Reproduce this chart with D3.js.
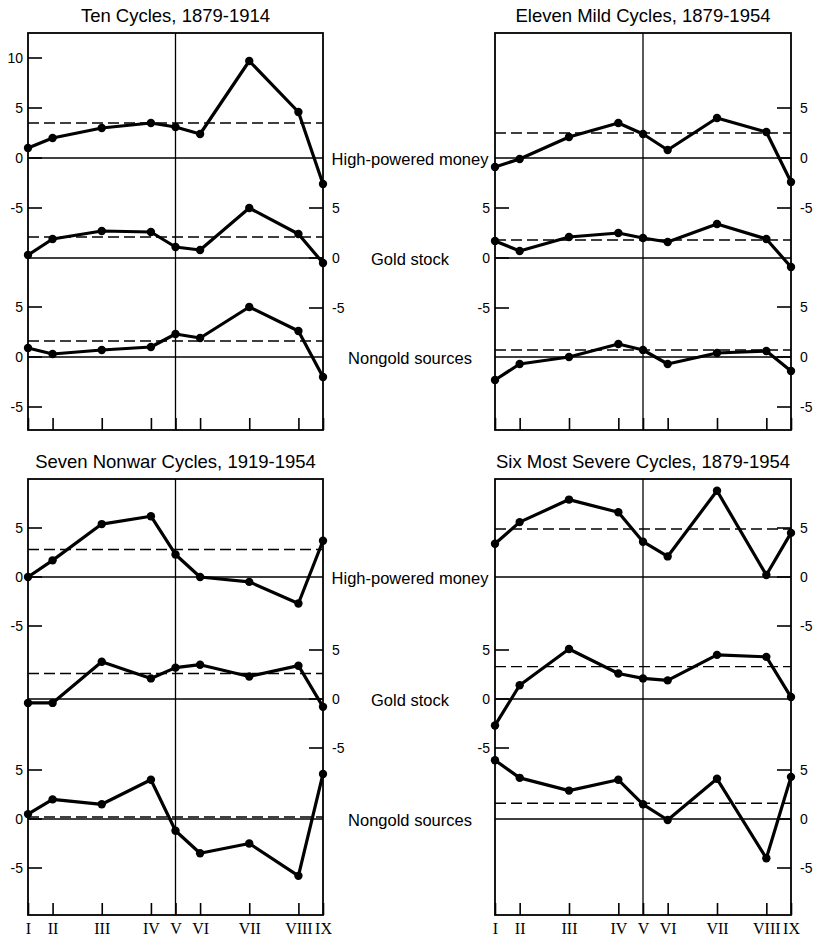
<!DOCTYPE html>
<html>
<head>
<meta charset="utf-8">
<script src="https://cdn.jsdelivr.net/npm/d3@7"></script>
<style>
  body { margin: 0; background: #fff; }
  svg { display: block; }
  .axis text { font-family: "Liberation Sans", Arial, sans-serif; font-size: 14px; fill: #000; }
  .axis line { stroke: #000; stroke-width: 1.6; }
  .axis path { display: none; }
  .stage text { font-family: "Liberation Serif", "Times New Roman", serif; font-size: 16px; fill: #000; }
</style>
</head>
<body>
<div id="chart"></div>
<script>
// reference stages of the cycle, spaced on a common time base
var stageLabels = ["I", "II", "III", "IV", "V", "VI", "VII", "VIII", "IX"];
var stagePos = [0, 1, 3, 5, 6, 7, 9, 11, 12];

var seriesNames = ["High-powered money", "Gold stock", "Nongold sources"];

// Ten Cycles, 1879-1914
var tenHpm     = [1.0, 2.0, 3.0, 3.5, 3.1, 2.4, 9.7, 4.6, -2.6];
var tenGold    = [0.3, 1.9, 2.7, 2.6, 1.1, 0.8, 5.0, 2.4, -0.5];
var tenNongold = [0.9, 0.3, 0.7, 1.0, 2.3, 1.9, 5.0, 2.6, -2.0];
var tenAvg     = [3.5, 2.1, 1.6];

// Eleven Mild Cycles, 1879-1954
var mildHpm     = [-0.9, -0.1, 2.1, 3.5, 2.4, 0.8, 4.0, 2.6, -2.4];
var mildGold    = [1.7, 0.7, 2.1, 2.5, 2.0, 1.6, 3.4, 1.9, -0.9];
var mildNongold = [-2.3, -0.7, 0.0, 1.3, 0.7, -0.7, 0.4, 0.6, -1.4];
var mildAvg     = [2.5, 1.8, 0.7];

// Seven Nonwar Cycles, 1919-1954
var nonwarHpm     = [0.0, 1.7, 5.4, 6.2, 2.3, 0.0, -0.5, -2.7, 3.7];
var nonwarGold    = [-0.4, -0.4, 3.8, 2.1, 3.2, 3.5, 2.3, 3.4, -0.8];
var nonwarNongold = [0.5, 2.0, 1.5, 4.0, -1.2, -3.5, -2.5, -5.8, 4.6];
var nonwarAvg     = [2.8, 2.6, 0.2];

// Six Most Severe Cycles, 1879-1954
var severeHpm     = [3.4, 5.6, 7.9, 6.6, 3.6, 2.1, 8.8, 0.2, 4.5];
var severeGold    = [-2.7, 1.4, 5.1, 2.6, 2.1, 1.9, 4.5, 4.3, 0.2];
var severeNongold = [6.0, 4.2, 2.9, 4.0, 1.5, -0.1, 4.1, -4.0, 4.3];
var severeAvg     = [4.9, 3.3, 1.6];

var width = 816, height = 937;

var svg = d3.select("#chart").append("svg")
    .attr("width", width)
    .attr("height", height);

// layout of the four frames; "side" tells on which edge each series is scaled
var panels = [
  { title: "Ten Cycles, 1879-1914", data: [tenHpm, tenGold, tenNongold], avg: tenAvg,
    x0: 28, x1: 323, top: 33, bottom: 430, k: 10, zeros: [158, 258, 357],
    side: ["left", "right", "left"], ticks: [[10, 5, 0, -5], [5, 0, -5], [5, 0, -5]], labels: false },
  { title: "Eleven Mild Cycles, 1879-1954", data: [mildHpm, mildGold, mildNongold], avg: mildAvg,
    x0: 495, x1: 791, top: 33, bottom: 430, k: 10, zeros: [158, 258, 357],
    side: ["right", "left", "right"], ticks: [[5, 0, -5], [5, 0, -5], [5, 0, -5]], labels: false },
  { title: "Seven Nonwar Cycles, 1919-1954", data: [nonwarHpm, nonwarGold, nonwarNongold], avg: nonwarAvg,
    x0: 28, x1: 323, top: 479, bottom: 915, k: 9.8, zeros: [577, 699, 819],
    side: ["left", "right", "left"], ticks: [[5, 0, -5], [5, 0, -5], [5, 0, -5]], labels: true },
  { title: "Six Most Severe Cycles, 1879-1954", data: [severeHpm, severeGold, severeNongold], avg: severeAvg,
    x0: 495, x1: 791, top: 479, bottom: 915, k: 9.8, zeros: [577, 699, 819],
    side: ["right", "left", "right"], ticks: [[5, 0, -5], [5, 0, -5], [5, 0, -5]], labels: true }
];

panels.forEach(function(p) {
  var g = svg.append("g");

  var x = d3.scaleLinear().domain([0, 12]).range([p.x0, p.x1]);

  g.append("text")
      .attr("x", (p.x0 + p.x1) / 2)
      .attr("y", p.top - 11)
      .attr("text-anchor", "middle")
      .style("font-family", "Liberation Sans, Arial, sans-serif")
      .style("font-size", "18.5px")
      .text(p.title);

  // stage V reference line
  g.append("line")
      .attr("x1", x(6)).attr("x2", x(6))
      .attr("y1", p.top).attr("y2", p.bottom)
      .attr("stroke", "#000").attr("stroke-width", 1.3);

  // stage ticks along the bottom
  var xAxis = d3.axisBottom(x)
      .tickValues(stagePos)
      .tickSizeInner(-12)
      .tickSizeOuter(0)
      .tickPadding(8)
      .tickFormat(function(d, i) { return p.labels ? stageLabels[i] : ""; });

  g.append("g")
      .attr("class", "axis stage")
      .attr("transform", "translate(0," + p.bottom + ")")
      .call(xAxis);

  p.data.forEach(function(values, s) {
    var zero = p.zeros[s];
    var y = d3.scaleLinear().domain([0, 1]).range([zero, zero - p.k]);
    var onLeft = p.side[s] == "left";
    var edge = onLeft ? p.x0 : p.x1;

    var yAxis = (onLeft ? d3.axisLeft(y) : d3.axisRight(y))
        .tickValues(p.ticks[s])
        .tickSize(0)
        .tickPadding(onLeft ? 5 : 9)
        .tickFormat(function(d) { return d < 0 ? "-" + (-d) : String(d); });

    g.append("g")
        .attr("class", "axis")
        .attr("transform", "translate(" + edge + ",0)")
        .call(yAxis);

    // short inward tick marks
    g.selectAll(null)
        .data(p.ticks[s])
        .enter().append("line")
        .attr("x1", edge)
        .attr("x2", onLeft ? edge + 14 : edge - 14)
        .attr("y1", function(d) { return y(d); })
        .attr("y2", function(d) { return y(d); })
        .attr("stroke", "#000")
        .attr("stroke-width", 1.6);

    // zero line
    g.append("line")
        .attr("x1", p.x0).attr("x2", p.x1)
        .attr("y1", y(0)).attr("y2", y(0))
        .attr("stroke", "#000").attr("stroke-width", 1.3);

    // average (dashed)
    g.append("line")
        .attr("x1", p.x0).attr("x2", p.x1)
        .attr("y1", y(p.avg[s])).attr("y2", y(p.avg[s]))
        .attr("stroke", "#000").attr("stroke-width", 1.4)
        .attr("stroke-dasharray", "11,5");

    var valueLine = d3.line()
        .x(function(d, i) { return x(stagePos[i]); })
        .y(function(d) { return y(d); });

    g.append("path")
        .datum(values)
        .attr("d", valueLine)
        .attr("fill", "none")
        .attr("stroke", "#000")
        .attr("stroke-width", 3.2)
        .attr("stroke-linejoin", "round");

    g.selectAll(null)
        .data(values)
        .enter().append("circle")
        .attr("cx", function(d, i) { return x(stagePos[i]); })
        .attr("cy", function(d) { return y(d); })
        .attr("r", 4.2)
        .attr("fill", "#000");
  });

  g.append("rect")
      .attr("x", p.x0).attr("y", p.top)
      .attr("width", p.x1 - p.x0).attr("height", p.bottom - p.top)
      .attr("fill", "none")
      .attr("stroke", "#000")
      .attr("stroke-width", 1.8);
});

// series names sit in the gutter between the columns
var rowZeros = [[158, 258, 357], [577, 699, 819]];
rowZeros.forEach(function(zs) {
  zs.forEach(function(z, s) {
    svg.append("text")
        .attr("x", 410)
        .attr("y", z + 7)
        .attr("text-anchor", "middle")
        .style("font-family", "Liberation Sans, Arial, sans-serif")
        .style("font-size", "16.5px")
        .text(seriesNames[s]);
  });
});
</script>
</body>
</html>
